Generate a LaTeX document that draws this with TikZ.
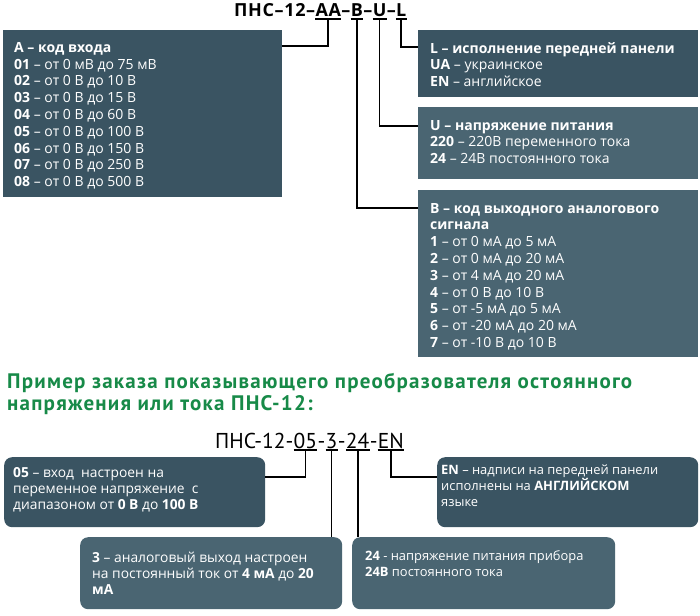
\documentclass[tikz,border=0pt]{standalone}
\usepackage{fontspec}
\setmainfont{Open Sans}
\newfontfamily\headfont{PT Sans}
\usetikzlibrary{positioning, calc}
\definecolor{boxdark}{HTML}{3A5462}
\definecolor{boxlight}{HTML}{4A6572}
\definecolor{headgreen}{HTML}{178A48}

\begin{document}
\begin{tikzpicture}[x=1pt, y=-1pt,
  panel/.style={rectangle, draw=none, inner sep=0pt, anchor=north west},
  card/.style={panel, rounded corners=8pt},
  info/.style={anchor=north west, inner sep=0pt, align=left, text=white,
               font=\fontsize{14}{16.8}\selectfont},
  code/.style={inner sep=0pt, anchor=base west,
               font=\fontsize{18}{20}\selectfont\bfseries\addfontfeature{LetterSpace=3.5}},
  ex/.style={inner sep=0pt, anchor=base west,
             font=\headfont\fontsize{21.5}{24}\selectfont},
  link/.style={line width=1.8pt, black},
  uline/.style={line width=1.5pt, black},
]
  \useasboundingbox (0,0) rectangle (700,615);

  % code line of the device
  \node[code] (c0) at (234,17) {ПНС–12–};
  \node[code, right=0pt of c0.base east, anchor=base west] (cA) {AA};
  \node[code, right=0pt of cA.base east, anchor=base west] (c1) {–};
  \node[code, right=0pt of c1.base east, anchor=base west] (cB) {B};
  \node[code, right=0pt of cB.base east, anchor=base west] (c2) {–};
  \node[code, right=0pt of c2.base east, anchor=base west] (cU) {U};
  \node[code, right=0pt of cU.base east, anchor=base west] (c3) {–};
  \node[code, right=0pt of c3.base east, anchor=base west] (cL) {L};
  \foreach \n in {A,B,U,L}{
    \draw[uline] ([yshift=-2pt]c\n.base west) -- ([yshift=-2pt]c\n.base east);
    \coordinate (u\n) at ([yshift=-2pt]c\n.base);
  }

  \node[panel, fill=boxdark,  minimum width=279pt, minimum height=167pt] (pA) at (3,30) {};
  \node[panel, fill=boxdark,  minimum width=280pt, minimum height=67pt]  (pL) at (418,30) {};
  \node[panel, fill=boxlight, minimum width=280pt, minimum height=72pt]  (pU) at (418,107) {};
  \node[panel, fill=boxlight, minimum width=280pt, minimum height=167pt] (pB) at (418,190) {};

  \node[info] (tA) at ([shift={(11pt,-12pt)}]pA.north west)
    {\textbf{A – код входа}\\
     \textbf{01} – от 0 мВ до 75 мВ\\
     \textbf{02} – от 0 В до 10 В\\
     \textbf{03} – от 0 В до 15 В\\
     \textbf{04} – от 0 В до 60 В\\
     \textbf{05} – от 0 В до 100 В\\
     \textbf{06} – от 0 В до 150 В\\
     \textbf{07} – от 0 В до 250 В\\
     \textbf{08} – от 0 В до 500 В};
  \node[info] (tL) at ([shift={(12pt,-12pt)}]pL.north west)
    {\textbf{L – исполнение передней панели}\\
     \textbf{UA} – украинское\\
     \textbf{EN} – английское};
  \node[info] (tU) at ([shift={(12pt,-13pt)}]pU.north west)
    {\textbf{U – напряжение питания}\\
     \textbf{220} – 220В переменного тока\\
     \textbf{24} – 24В постоянного тока};
  \node[info] (tB) at ([shift={(12pt,-13pt)}]pB.north west)
    {\textbf{B – код выходного аналогового}\\
     \textbf{сигнала}\\
     \textbf{1} – от 0 мА до 5 мА\\
     \textbf{2} – от 0 мА до 20 мА\\
     \textbf{3} – от 4 мА до 20 мА\\
     \textbf{4} – от 0 В до 10 В\\
     \textbf{5} – от -5 мА до 5 мА\\
     \textbf{6} – от -20 мА до 20 мА\\
     \textbf{7} – от -10 В до 10 В};

  \draw[link] (uA) |- ([yshift=-16pt]pA.north east);
  \draw[link] (uL) |- ([yshift=-17pt]pL.north west);
  \draw[link] (uU) |- ([yshift=-19pt]pU.north west);
  \draw[link] (uB) |- ([yshift=-18pt]pB.north west);

  % example
  \node[anchor=north west, inner sep=0pt, align=left, text=headgreen,
        font=\headfont\fontsize{21}{22}\selectfont\bfseries\addfontfeature{LetterSpace=5.8}] (hd) at (7,373)
    {Пример заказа показывающего преобразователя остоянного\\
     напряжения или тока ПНС-12:};

  \node[ex] (e0) at (215,448) {ПНС-12-};
  \node[ex, right=0pt of e0.base east, anchor=base west] (e05) {05};
  \node[ex, right=0pt of e05.base east, anchor=base west] (e1) {-};
  \node[ex, right=0pt of e1.base east, anchor=base west] (e3) {3};
  \node[ex, right=0pt of e3.base east, anchor=base west] (e2) {-};
  \node[ex, right=0pt of e2.base east, anchor=base west] (e24) {24};
  \node[ex, right=0pt of e24.base east, anchor=base west] (e4) {-};
  \node[ex, right=0pt of e4.base east, anchor=base west] (eEN) {EN};
  \foreach \n in {05,3,24,EN}{
    \draw[uline] ([yshift=-2pt]e\n.base west) -- ([yshift=-2pt]e\n.base east);
    \coordinate (v\n) at ([yshift=-2pt]e\n.base);
  }

  \node[card, fill=boxdark,  minimum width=261pt, minimum height=70pt] (q05) at (4,457) {};
  \node[card, fill=boxdark,  minimum width=261pt, minimum height=70pt] (qEN) at (437,457) {};
  \node[card, fill=boxlight, minimum width=262pt, minimum height=72pt] (q3)  at (80,537) {};
  \node[card, fill=boxlight, minimum width=263pt, minimum height=72pt] (q24) at (352,537) {};

  \node[info, font=\fontsize{13.8}{16}\selectfont] (s05) at ([shift={(9pt,-10pt)}]q05.north west)
    {\textbf{05} – вход\ \ настроен на\\
     переменное напряжение\ \ с\\
     диапазоном от \textbf{0 В} до \textbf{100 В}};
  \node[info, font=\fontsize{12.9}{16}\selectfont] (sEN) at ([shift={(4pt,-8pt)}]qEN.north west)
    {\textbf{EN} – надписи на передней панели\\
     исполнены на \textbf{АНГЛИЙСКОМ}\\
     языке};
  \node[info, font=\fontsize{13.8}{16}\selectfont] (s3) at ([shift={(12pt,-15pt)}]q3.north west)
    {\textbf{3} – аналоговый выход настроен\\
     на постоянный ток от \textbf{4 мА} до \textbf{20}\\
     \textbf{мА}};
  \node[info, font=\fontsize{12.9}{16}\selectfont] (s24) at ([shift={(13pt,-13pt)}]q24.north west)
    {\textbf{24} - напряжение питания прибора\\
     \textbf{24В} постоянного тока};

  \draw[link] (v05) |- ([yshift=-20pt]q05.north east);
  \draw[link] (vEN) |- ([yshift=-20pt]qEN.north west);
  \draw[link] (v3) -- (v3 |- q3.north);
  \draw[link] (v24) -- (v24 |- q24.north);
\end{tikzpicture}
\end{document}
